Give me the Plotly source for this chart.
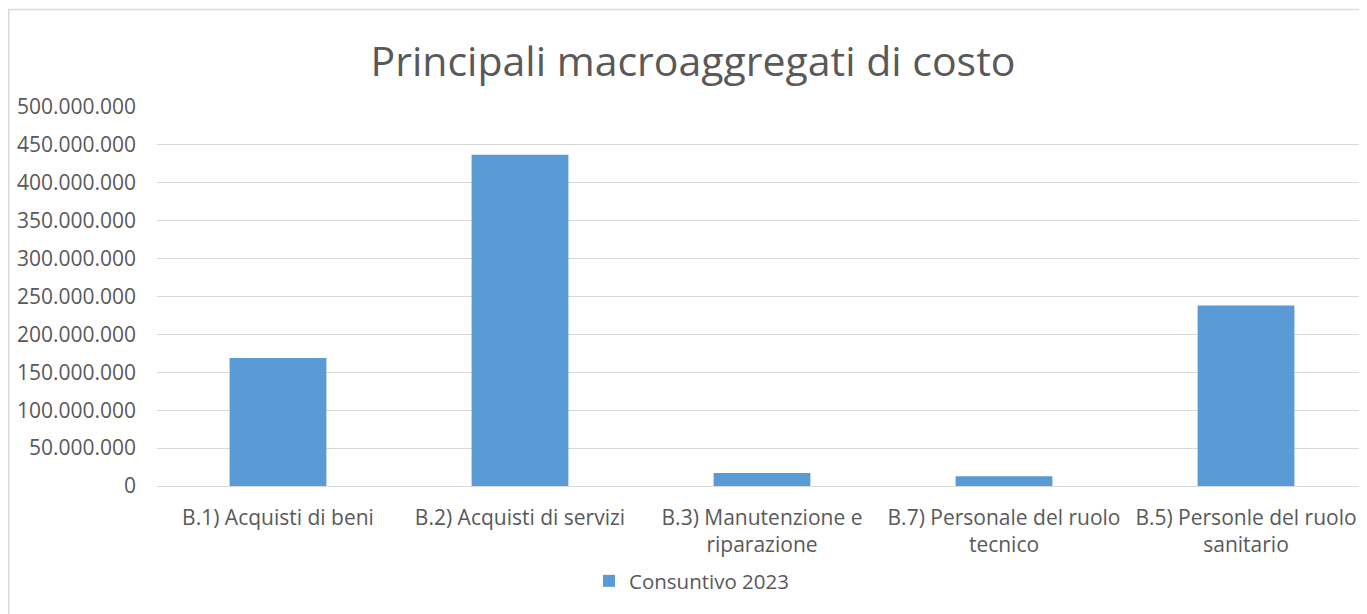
import plotly.graph_objects as go

categories = [
    "B.1) Acquisti di beni",
    "B.2) Acquisti di servizi",
    "B.3) Manutenzione e<br>riparazione",
    "B.7) Personale del ruolo<br>tecnico",
    "B.5) Personle del ruolo<br>sanitario",
]
values = [169_000_000, 437_000_000, 17_000_000, 13_000_000, 238_000_000]
series_name = "Consuntivo 2023"
title_text = "Principali macroaggregati di costo"

FONT = "Open Sans"
GREY = "#595959"

fig = go.Figure()
fig.add_trace(go.Bar(
    x=categories, y=values, name=series_name,
    marker=dict(color="#5B9BD5", line=dict(width=0)),
    width=0.4, showlegend=True,
))

# the page has an 8px body margin; figure coordinates are page - 8
W, H = 1359, 606
L, R, T, B = 149, 0, 99, 128
pw, ph = W - L - R, H - T - B

def px2paper_x(px):
    return (px - L) / pw

def px2paper_y(py):
    return (H - B - py) / ph

fig.update_layout(
    width=W, height=H,
    margin=dict(l=L, r=R, t=T, b=B),
    paper_bgcolor="white", plot_bgcolor="white",
    separators=",.",
    font=dict(family=FONT, color=GREY, size=21),
    title=dict(text=title_text, x=685 / W, xanchor="center", xref="container",
               y=1 - 54 / H, yanchor="middle",
               font=dict(family=FONT, size=41, color=GREY)),
    xaxis=dict(showgrid=False, showline=False, ticks="", tickfont=dict(size=21, color=GREY),
               ticklabelstandoff=17, fixedrange=True),
    yaxis=dict(range=[0, 500_000_000], dtick=50_000_000, tickformat=",.0f",
               showgrid=True, gridcolor="#D9D9D9", gridwidth=1,
               zeroline=True, zerolinecolor="#D9D9D9", zerolinewidth=1,
               showline=False, ticks="", ticklabelstandoff=20,
               tickfont=dict(size=21, color=GREY)),
    legend=dict(orientation="h", x=px2paper_x(581), xanchor="left", y=px2paper_y(573), yanchor="middle",
                font=dict(size=20.5, color=GREY), itemwidth=30),
    bargap=0.6,
    shapes=[dict(type="rect", xref="paper", yref="paper",
                 x0=px2paper_x(0.75), x1=px2paper_x(1380),
                 y0=px2paper_y(640), y1=px2paper_y(1.5),
                 line=dict(color="#D9D9D9", width=1.5), fillcolor="rgba(0,0,0,0)", layer="below")],
)

fig.write_html("out.html")
